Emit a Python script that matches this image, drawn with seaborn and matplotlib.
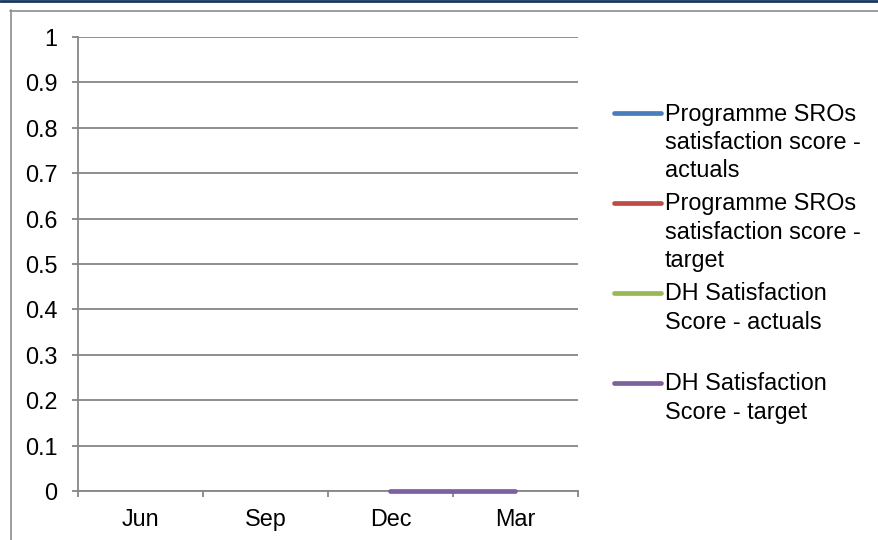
import numpy as np
import pandas as pd
import matplotlib
matplotlib.use("Agg")
import matplotlib.pyplot as plt
from matplotlib.lines import Line2D
import seaborn as sns

# Quarter labels along the category axis
months = ["Jun", "Sep", "Dec", "Mar"]

# Series values per quarter (NaN = no reading yet)
sro_actuals = [np.nan, np.nan, np.nan, np.nan]
sro_target = [np.nan, np.nan, np.nan, np.nan]
dh_actuals = [np.nan, np.nan, np.nan, np.nan]
dh_target = [np.nan, np.nan, 0.0, 0.0]

series_names = [
    "Programme SROs\nsatisfaction score -\nactuals",
    "Programme SROs\nsatisfaction score -\ntarget",
    "DH Satisfaction\nScore - actuals",
    "DH Satisfaction\nScore - target",
]
series_values = [sro_actuals, sro_target, dh_actuals, dh_target]
colors = ["#4A7EBB", "#BE4B48", "#98B954", "#7D60A0"]

y_ticks = [0, 0.1, 0.2, 0.3, 0.4, 0.5, 0.6, 0.7, 0.8, 0.9, 1]
y_tick_labels = ["0", "0.1", "0.2", "0.3", "0.4", "0.5", "0.6", "0.7", "0.8", "0.9", "1"]

sns.set_theme(style="white")
plt.rcParams["font.family"] = ["Liberation Sans", "DejaVu Sans"]

FS = 16.8
FS_PX = FS * 100 / 72
W, H = 879, 540
fig = plt.figure(figsize=(W / 100, H / 100), dpi=100)
fig.patch.set_facecolor("white")

def fx(px):
    return px / W

def fy(py):
    return 1 - py / H

left, right, top, bottom = 78, 578, 37, 491
ax = fig.add_axes([fx(left), fy(bottom), fx(right - left), (bottom - top) / H])
ax.set_facecolor("white")

positions = list(range(len(months)))
rows = []
for name, vals in zip(series_names, series_values):
    for pos, v in zip(positions, vals):
        rows.append({"quarter": pos, "score": v, "series": name})
df = pd.DataFrame(rows)
df_valid = df.dropna()

palette = dict(zip(series_names, colors))
sns.lineplot(data=df_valid, x="quarter", y="score", hue="series",
             hue_order=series_names, palette=palette, linewidth=3.4,
             legend=False, ax=ax, sort=False, solid_capstyle="round",
             clip_on=False, zorder=10)

grid_col = "#868686"
ax.set_xlim(-0.5, len(months) - 0.5)
ax.set_ylim(0, 1)
ax.set_yticks(y_ticks)
ax.set_yticklabels(y_tick_labels)
ax.set_xticks([p - 0.5 for p in positions] + [len(months) - 0.5])
ax.set_xticklabels([])
ax.set_xticks(positions, minor=True)
ax.set_xticklabels(months, minor=True)
ax.set_xlabel("")
ax.set_ylabel("")

for y in y_ticks:
    ax.axhline(y, color=grid_col, lw=1.3, zorder=1)

for s in ["top", "right"]:
    ax.spines[s].set_visible(False)
for s in ["left", "bottom"]:
    ax.spines[s].set_color(grid_col)
    ax.spines[s].set_linewidth(1.3)
    ax.spines[s].set_zorder(2)

ax.tick_params(axis="y", which="major", direction="out", length=4.6, width=1.3,
               color=grid_col, pad=10, labelsize=FS, labelcolor="black", left=True)
ax.tick_params(axis="x", which="major", direction="out", length=4.3, width=1.3,
               color=grid_col, bottom=True)
ax.tick_params(axis="x", which="minor", length=0, pad=12.5, labelsize=FS,
               labelcolor="black")

# Legend drawn entry by entry, handle aligned with the first text line
legend_y = [113, 203, 293, 383]
first_line_offset = 0.45 * FS_PX  # text top to mid-cap of first line
for name, col, ly in zip(series_names, colors, legend_y):
    fig.add_artist(Line2D([fx(614), fx(661)], [fy(ly), fy(ly)],
                          transform=fig.transFigure, color=col, lw=3.4,
                          solid_capstyle="round"))
    fig.text(fx(665), fy(ly - first_line_offset), name, ha="left", va="top",
             fontsize=FS, color="black", linespacing=1.285)

# Chart frame and header rule
fig.add_artist(Line2D([0, 1], [fy(1), fy(1)], transform=fig.transFigure,
                      color="#17375E", lw=2))
fig.add_artist(Line2D([fx(10), 1], [fy(10.5), fy(10.5)], transform=fig.transFigure,
                      color="#8C8C8C", lw=1.2))
fig.add_artist(Line2D([fx(10.5), fx(10.5)], [fy(10), 0], transform=fig.transFigure,
                      color="#8C8C8C", lw=1.2))

fig.savefig("out.png", dpi=100)
